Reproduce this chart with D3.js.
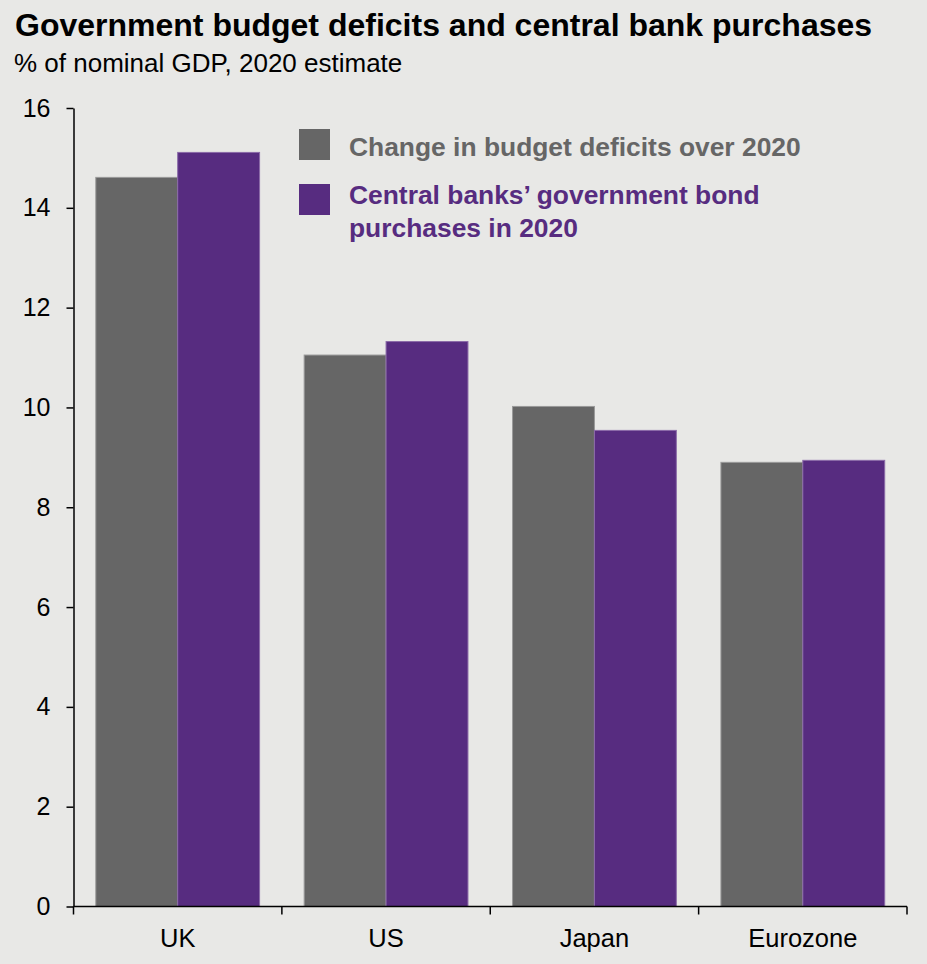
<!DOCTYPE html>
<html>
<head>
<meta charset="utf-8">
<script src="https://cdn.jsdelivr.net/npm/d3@7"></script>
<style>
  html, body { margin: 0; padding: 0; background: #e8e8e6; }
  svg { display: block; font-family: "Liberation Sans", Arial, sans-serif; }
</style>
</head>
<body>
<svg id="chart" width="927" height="964"></svg>
<script>
// Data: % of nominal GDP, 2020 estimate
const categories = ["UK", "US", "Japan", "Eurozone"];
const deficitChange = [14.61, 11.05, 10.02, 8.90];
const bondPurchases = [15.11, 11.32, 9.54, 8.94];
const yTicks = [0, 2, 4, 6, 8, 10, 12, 14, 16];
const seriesNames = ["Change in budget deficits over 2020", "Central banks\u2019 government bond purchases in 2020"];

const W = 927, H = 964;
const margin = { left: 73.5, right: 20, top: 108, bottom: 58 };
const svg = d3.select("#chart");

svg.append("rect").attr("width", W).attr("height", H).attr("fill", "#e8e8e6");

const x = d3.scaleBand()
  .domain(categories)
  .range([margin.left, 907])
  .paddingInner(0.214)
  .paddingOuter(0.107);

const y = d3.scaleLinear()
  .domain([0, 16])
  .range([906.5, margin.top]);

const series = [
  { key: "deficit", values: deficitChange, fill: "#666666", stroke: "#9a9a9a" },
  { key: "bonds", values: bondPurchases, fill: "#572c80", stroke: "#8b6aa8" }
];

const inner = d3.scaleBand()
  .domain(series.map(s => s.key))
  .range([0, x.bandwidth()])
  .padding(0);

// Bars
series.forEach(s => {
  svg.append("g").selectAll("rect")
    .data(categories.map((c, i) => ({ c, v: s.values[i] })))
    .join("rect")
    .attr("x", d => x(d.c) + inner(s.key))
    .attr("y", d => y(d.v))
    .attr("width", inner.bandwidth())
    .attr("height", d => y(0) - y(d.v))
    .attr("fill", s.fill)
    .attr("stroke", s.stroke)
    .attr("stroke-width", 1);
});

// Y axis
const yAxis = svg.append("g")
  .attr("transform", `translate(${margin.left},0)`)
  .call(d3.axisLeft(y).tickValues(yTicks).tickSize(7).tickPadding(16).tickSizeOuter(0));
yAxis.select(".domain").attr("stroke", "#000").attr("stroke-width", 1.5);
yAxis.selectAll(".tick line").attr("stroke", "#000").attr("stroke-width", 1.5);
yAxis.selectAll(".tick text")
  .attr("fill", "#000")
  .style("font-size", "25px")
  .style("font-family", "'Liberation Sans', Arial, sans-serif");

// X axis: ticks sit on band boundaries, labels centred in bands
const xAxisG = svg.append("g").attr("transform", `translate(0,${y(0)})`);
xAxisG.append("line")
  .attr("x1", margin.left).attr("x2", 907)
  .attr("stroke", "#000").attr("stroke-width", 1.5);
const step = x.step();
const boundaries = categories.map((c, i) => x(c) - x.paddingOuter() * step).concat([907]);
xAxisG.selectAll("line.tick")
  .data(boundaries)
  .join("line")
  .attr("class", "tick")
  .attr("x1", d => d).attr("x2", d => d)
  .attr("y1", 0).attr("y2", 8)
  .attr("stroke", "#000").attr("stroke-width", 1.5);
xAxisG.selectAll("text")
  .data(categories)
  .join("text")
  .attr("x", d => x(d) + x.bandwidth() / 2)
  .attr("y", 40)
  .attr("text-anchor", "middle")
  .attr("fill", "#000")
  .style("font-size", "25.5px")
  .text(d => d);

// Title and subtitle
svg.append("text")
  .attr("x", 15).attr("y", 36)
  .attr("font-weight", "bold")
  .style("font-size", "32px")
  .attr("fill", "#000")
  .text("Government budget deficits and central bank purchases");
svg.append("text")
  .attr("x", 14).attr("y", 72)
  .style("font-size", "26px")
  .attr("fill", "#000")
  .text("% of nominal GDP, 2020 estimate");

// Legend
const legend = svg.append("g");
legend.append("rect")
  .attr("x", 299).attr("y", 129).attr("width", 31).attr("height", 31)
  .attr("fill", series[0].fill);
legend.append("text")
  .attr("x", 349).attr("y", 156)
  .attr("font-weight", "bold")
  .style("font-size", "26.4px")
  .attr("fill", "#666666")
  .text(seriesNames[0]);
legend.append("rect")
  .attr("x", 299).attr("y", 184).attr("width", 31).attr("height", 31)
  .attr("fill", series[1].fill);
const lt = legend.append("text")
  .attr("x", 349).attr("y", 203.5)
  .attr("font-weight", "bold")
  .style("font-size", "26.4px")
  .attr("fill", "#572c80");
lt.append("tspan").attr("x", 349).text("Central banks\u2019 government bond");
lt.append("tspan").attr("x", 349).attr("dy", 33).text("purchases in 2020");
</script>
</body>
</html>
